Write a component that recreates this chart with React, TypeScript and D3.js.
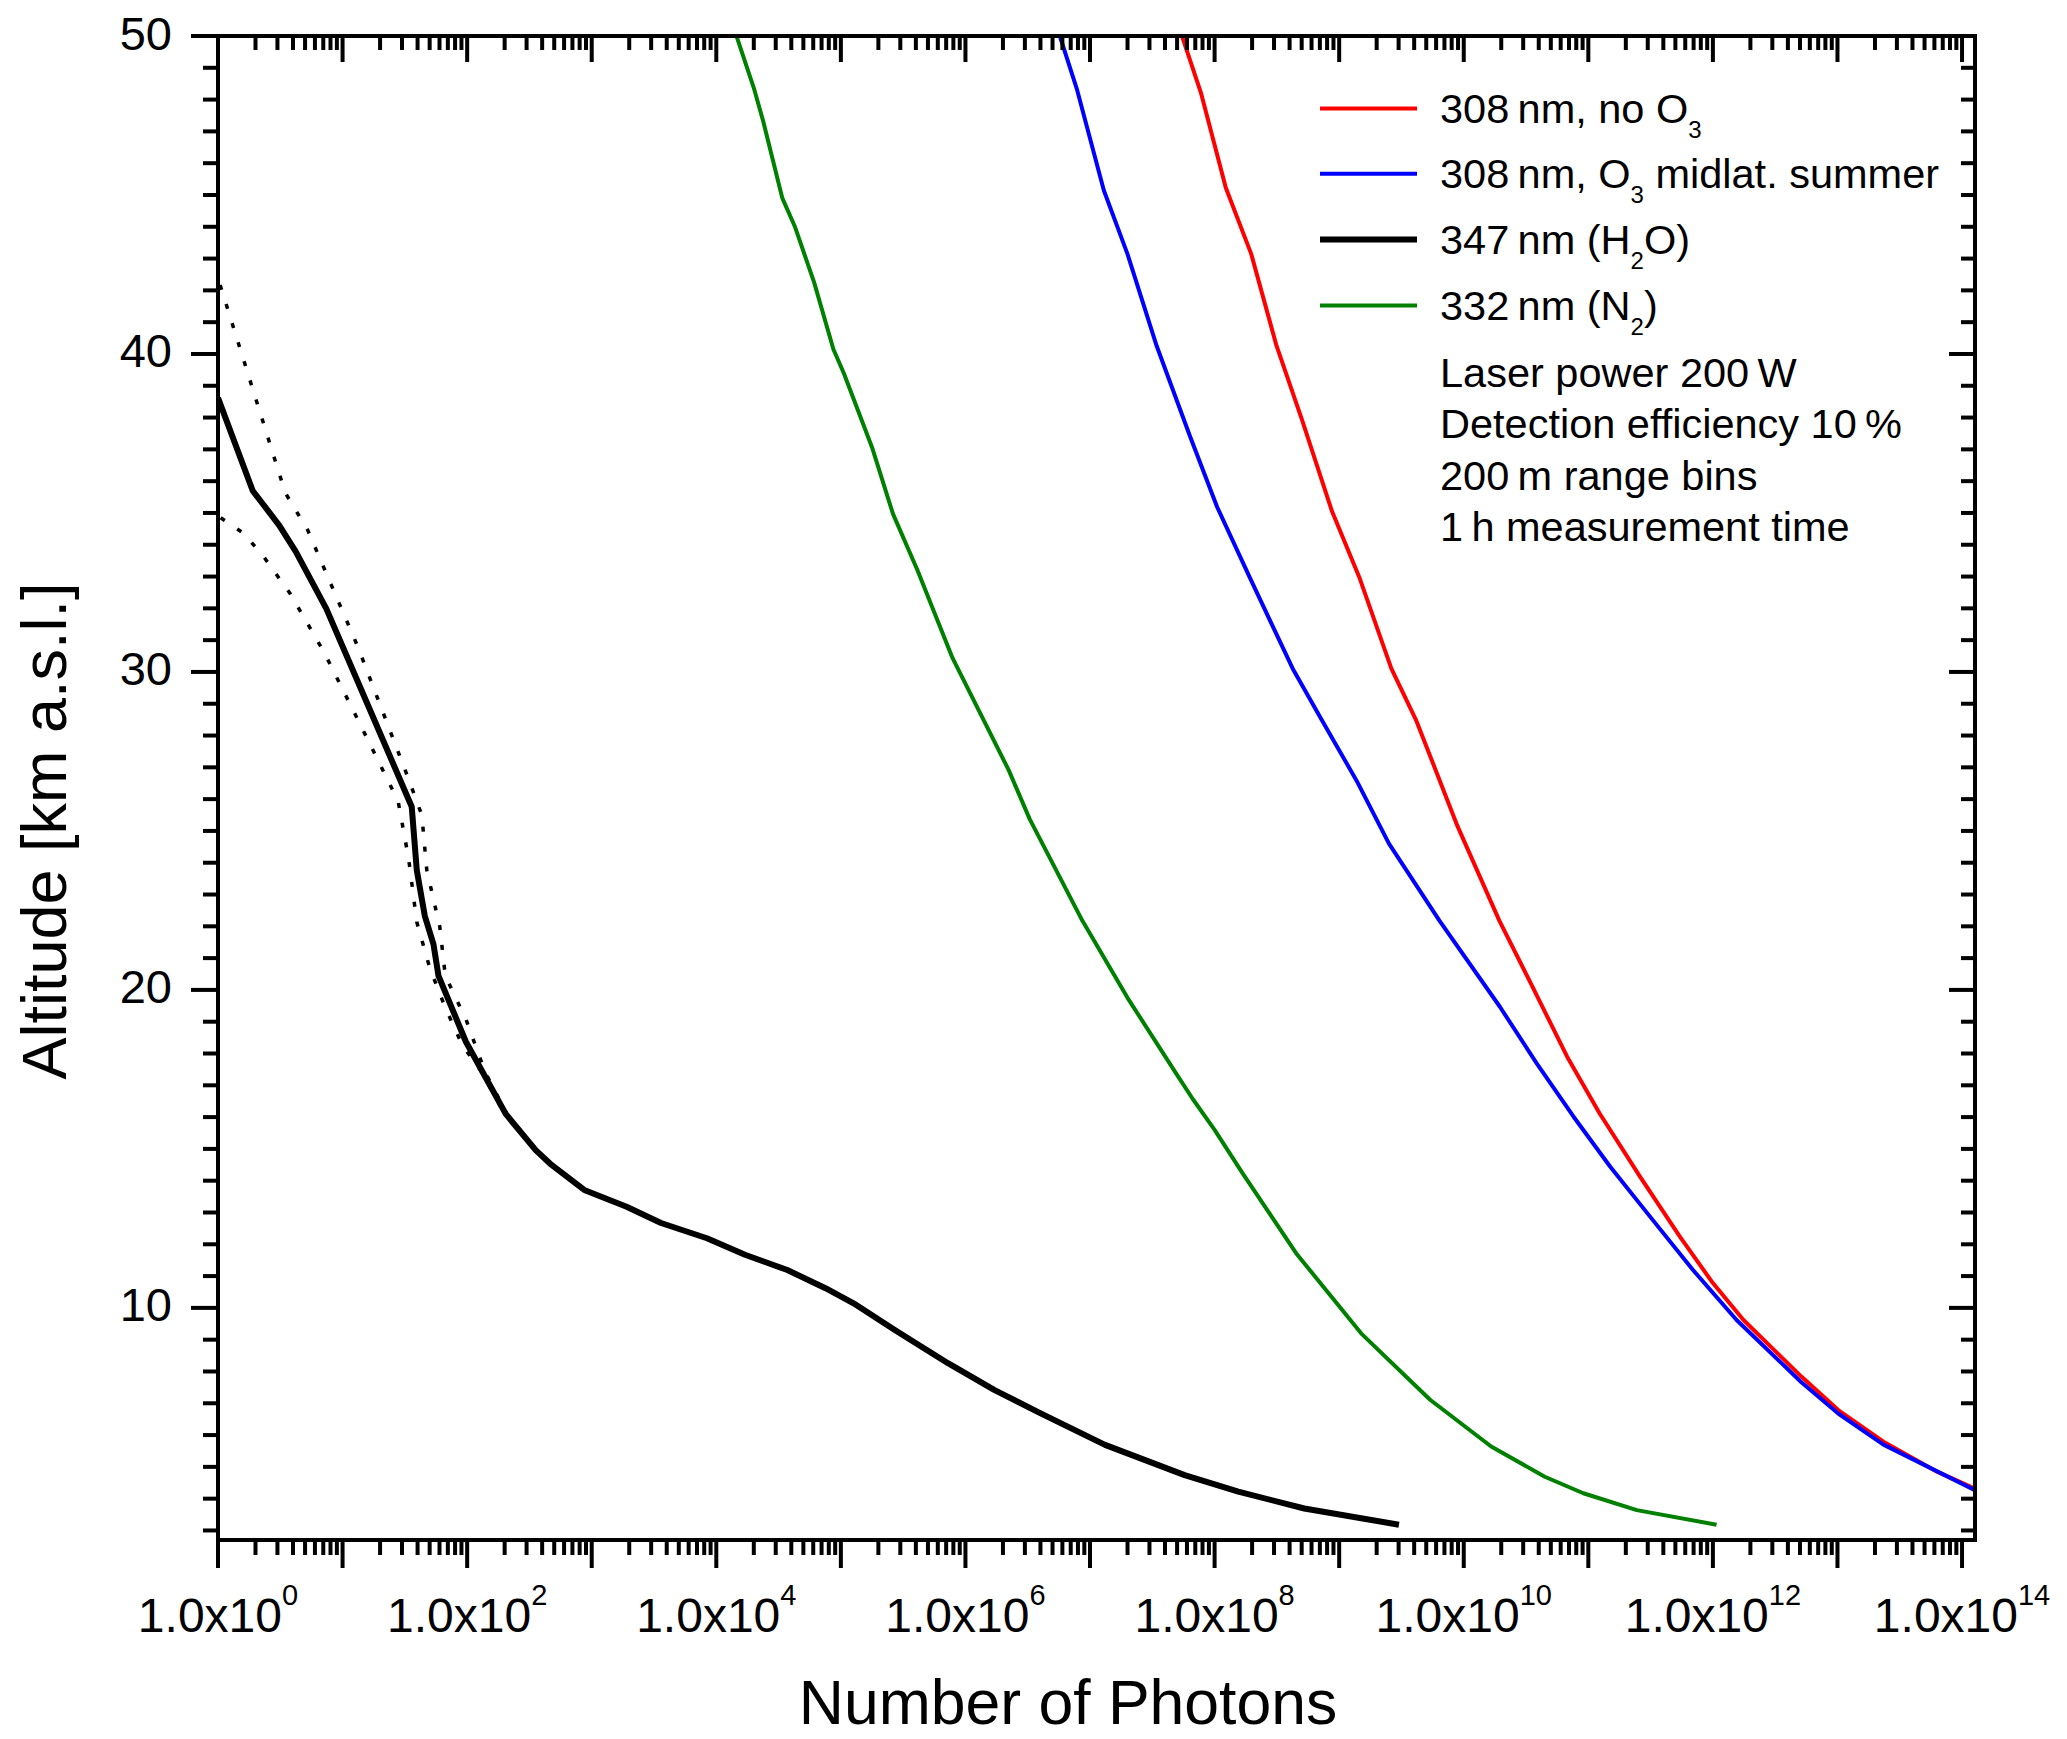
import { useEffect, useRef } from 'react'
import * as d3 from 'd3'

const WIDTH = 2067
const HEIGHT = 1739
const PLOT = { left: 218, right: 1975, top: 36, bottom: 1540 }
const FONT = '"Liberation Sans", Arial, Helvetica, sans-serif'

const X_MIN = 1
const X_MAX = 10 ** 14.104
const Y_MIN = 2.7
const Y_MAX = 50

// 308 nm, no O3
const RED_ALT = [49.97, 48.22, 45.23, 43.14, 40.26, 37.95, 35.08, 32.98, 30.11, 28.46, 25.15, 22.18, 20.19, 17.9, 16.12, 14.13, 12.24, 10.78, 9.62, 7.84, 6.78, 5.79, 4.85, 4.29]
const RED_N = [5.5e7, 7.76e7, 1.23e8, 1.97e8, 3.14e8, 5.01e8, 8.71e8, 1.45e9, 2.62e9, 4.17e9, 8.91e9, 1.93e10, 3.47e10, 6.76e10, 1.23e11, 2.6e11, 5.43e11, 1.0e12, 1.76e12, 5.13e12, 1.02e13, 2.34e13, 6.31e13, 1.31e14]

// 308 nm, O3 midlat. summer
const BLUE_ALT = [49.97, 48.31, 45.15, 43.14, 40.25, 37.39, 35.18, 32.98, 30.11, 28.56, 26.58, 24.6, 22.18, 19.47, 17.69, 16.02, 14.44, 12.87, 11.19, 9.62, 7.66, 6.67, 5.7, 4.24]
const BLUE_N = [5.75e6, 7.87e6, 1.29e7, 2.0e7, 3.43e7, 6.38e7, 1.05e8, 1.91e8, 4.23e8, 7.08e8, 1.38e9, 2.51e9, 6.38e9, 1.95e10, 3.85e10, 7.59e10, 1.5e11, 3.13e11, 6.92e11, 1.55e12, 5.13e12, 1.02e13, 2.34e13, 1.31e14]

// 347 nm (H2O)
const H2O_ALT = [38.62, 35.7, 34.61, 33.79, 31.99, 29.0, 25.76, 23.77, 22.33, 21.43, 20.44, 18.37, 16.1, 14.96, 14.54, 13.71, 13.18, 12.67, 12.19, 11.67, 11.19, 10.62, 10.1, 9.31, 8.26, 7.42, 6.69, 5.69, 4.74, 4.22, 3.69, 3.18]
const H2O_N = [1.0, 1.9, 3.1, 4.2, 7.4, 15.8, 35.9, 39.4, 45.7, 53.7, 58.9, 97.7, 204, 355, 462, 871, 1905, 3600, 8410, 1.7e4, 3.72e4, 7.53e4, 1.32e5, 2.69e5, 7.24e5, 1.7e6, 3.98e6, 1.32e7, 5.75e7, 1.55e8, 5.25e8, 3.02e9]

// 347 nm uncertainty bounds (dotted)
const H2O_UP_ALT = [42.17, 38.62, 35.63, 34.46, 30.81, 26.68, 25.49, 23.77, 21.99, 20.44, 19.08, 17.4, 16.1, 14.96]
const H2O_UP_N = [1.04, 2.0, 3.47, 5.25, 13.2, 33.5, 43.3, 47.4, 60.3, 66.8, 97.7, 140, 208, 360]
const H2O_LO_ALT = [34.85, 34.35, 33.61, 32.46, 30.63, 28.29, 25.94, 24.13, 22.14, 20.69, 19.44, 18.27, 17.4, 16.1, 14.96]
const H2O_LO_N = [1.05, 1.62, 2.34, 3.8, 7.08, 14.1, 27.9, 33.9, 39.4, 50.1, 66.8, 91.2, 132, 200, 350]

// 332 nm (N2)
const N2_ALT = [49.97, 48.31, 47.32, 44.9, 44.01, 42.25, 40.15, 39.38, 37.06, 34.97, 33.2, 30.44, 29.56, 26.92, 25.37, 22.18, 19.75, 17.32, 16.57, 15.6, 14.23, 11.72, 9.2, 7.11, 5.64, 4.69, 4.17, 3.64, 3.18]
const N2_N = [1.46e4, 2.02e4, 2.38e4, 3.39e4, 4.27e4, 6.1e4, 8.71e4, 1.06e5, 1.78e5, 2.62e5, 4.12e5, 7.87e5, 1.02e6, 2.22e6, 3.28e6, 8.67e6, 2.0e7, 5.01e7, 6.68e7, 1.0e8, 1.68e8, 4.51e8, 1.5e9, 5.37e9, 1.66e10, 4.47e10, 9.12e10, 2.45e11, 1.07e12]

const Y_MAJOR = [10, 20, 30, 40, 50]
const X_LABEL_EXP = [0, 2, 4, 6, 8, 10, 12, 14]

const SERIES = [
  { alt: RED_ALT, n: RED_N, color: '#ff0000', width: 4, sub: ['308\u2009nm, no O', '3', ''] },
  { alt: BLUE_ALT, n: BLUE_N, color: '#0000ff', width: 4, sub: ['308\u2009nm, O', '3', ' midlat. summer'] },
  { alt: H2O_ALT, n: H2O_N, color: '#000000', width: 6, sub: ['347\u2009nm (H', '2', 'O)'] },
  { alt: N2_ALT, n: N2_N, color: '#008000', width: 4, sub: ['332\u2009nm (N', '2', ')'] },
]

const INFO = [
  'Laser power 200\u2009W',
  'Detection efficiency 10\u2009%',
  '200\u2009m range bins',
  '1\u2009h measurement time',
]

export default function App() {
  const svgRef = useRef<SVGSVGElement>(null)

  useEffect(() => {
    if (!svgRef.current) return
    const svg = d3.select(svgRef.current)
    svg.selectAll('*').remove()
    svg.attr('font-family', FONT)

    const x = d3.scaleLog().domain([X_MIN, X_MAX]).range([PLOT.left, PLOT.right])
    const y = d3.scaleLinear().domain([Y_MIN, Y_MAX]).range([PLOT.bottom, PLOT.top])

    svg.append('rect').attr('width', WIDTH).attr('height', HEIGHT).attr('fill', '#fff')

    svg.append('clipPath').attr('id', 'plot-clip')
      .append('rect')
      .attr('x', PLOT.left).attr('y', PLOT.top)
      .attr('width', PLOT.right - PLOT.left).attr('height', PLOT.bottom - PLOT.top)

    const line = d3.line<[number, number]>()
      .x(d => x(d[1]))
      .y(d => y(d[0]))

    const curves = svg.append('g').attr('clip-path', 'url(#plot-clip)')
    SERIES.forEach(s => {
      curves.append('path')
        .attr('d', line(d3.zip(s.alt, s.n) as [number, number][]))
        .attr('fill', 'none')
        .attr('stroke', s.color)
        .attr('stroke-width', s.width)
        .attr('stroke-linejoin', 'round')
    })
    ;[[H2O_UP_ALT, H2O_UP_N], [H2O_LO_ALT, H2O_LO_N]].forEach(([a, n]) => {
      curves.append('path')
        .attr('d', line(d3.zip(a, n) as [number, number][]))
        .attr('fill', 'none')
        .attr('stroke', '#000')
        .attr('stroke-width', 3.5)
        .attr('stroke-dasharray', '5 15')
    })

    // ticks: bottom/left point out, top/right point in
    const ticks = svg.append('g').attr('stroke', '#000').attr('stroke-width', 4)
    const xMajor = d3.range(0, 15).map(k => 10 ** k)
    const xMinor: number[] = []
    d3.range(0, 15).forEach(k => d3.range(2, 10).forEach(m => {
      const v = m * 10 ** k
      if (v <= X_MAX) xMinor.push(v)
    }))
    xMajor.forEach(v => {
      ticks.append('line').attr('x1', x(v)).attr('x2', x(v)).attr('y1', PLOT.bottom).attr('y2', PLOT.bottom + 28)
      ticks.append('line').attr('x1', x(v)).attr('x2', x(v)).attr('y1', PLOT.top).attr('y2', PLOT.top + 26)
    })
    xMinor.forEach(v => {
      ticks.append('line').attr('x1', x(v)).attr('x2', x(v)).attr('y1', PLOT.bottom).attr('y2', PLOT.bottom + 15)
      ticks.append('line').attr('x1', x(v)).attr('x2', x(v)).attr('y1', PLOT.top).attr('y2', PLOT.top + 14)
    })
    const yMinor = d3.range(3, 50).filter(v => v % 10 !== 0)
    Y_MAJOR.forEach(v => {
      ticks.append('line').attr('x1', PLOT.left - 27).attr('x2', PLOT.left).attr('y1', y(v)).attr('y2', y(v))
      ticks.append('line').attr('x1', PLOT.right - 26).attr('x2', PLOT.right).attr('y1', y(v)).attr('y2', y(v))
    })
    yMinor.forEach(v => {
      ticks.append('line').attr('x1', PLOT.left - 15).attr('x2', PLOT.left).attr('y1', y(v)).attr('y2', y(v))
      ticks.append('line').attr('x1', PLOT.right - 14).attr('x2', PLOT.right).attr('y1', y(v)).attr('y2', y(v))
    })

    // frame
    svg.append('rect')
      .attr('x', PLOT.left).attr('y', PLOT.top)
      .attr('width', PLOT.right - PLOT.left).attr('height', PLOT.bottom - PLOT.top)
      .attr('fill', 'none').attr('stroke', '#000').attr('stroke-width', 4)

    // tick labels
    Y_MAJOR.forEach(v => {
      svg.append('text')
        .attr('x', 172).attr('y', y(v) + 13.5)
        .attr('text-anchor', 'end').attr('font-size', 47)
        .text(String(v))
    })
    X_LABEL_EXP.forEach(k => {
      const t = svg.append('text')
        .attr('x', x(10 ** k)).attr('y', 1632)
        .attr('text-anchor', 'middle').attr('font-size', 48)
      t.append('tspan').text('1.0x10')
      t.append('tspan').attr('dy', -27).attr('font-size', 29).text(String(k))
    })

    // axis titles
    svg.append('text')
      .attr('x', 1068).attr('y', 1724)
      .attr('text-anchor', 'middle').attr('font-size', 62.5)
      .text('Number of Photons')
    svg.append('text')
      .attr('transform', 'translate(66,831) rotate(-90)')
      .attr('text-anchor', 'middle').attr('font-size', 63)
      .text('Altitude [km a.s.l.]')

    // legend
    const lineY = [108.6, 173.8, 239.5, 305.5]
    SERIES.forEach((s, i) => {
      svg.append('line')
        .attr('x1', 1320).attr('x2', 1417)
        .attr('y1', lineY[i]).attr('y2', lineY[i])
        .attr('stroke', s.color).attr('stroke-width', s.width)
      const t = svg.append('text')
        .attr('x', 1440).attr('y', lineY[i] + 14)
        .attr('font-size', 41.5)
      t.append('tspan').text(s.sub[0])
      t.append('tspan').attr('dy', 15.6).attr('font-size', 24).text(s.sub[1])
      if (s.sub[2]) t.append('tspan').attr('dy', -15.6).text(s.sub[2])
    })
    INFO.forEach((txt, i) => {
      svg.append('text')
        .attr('x', 1440).attr('y', 386.5 + i * 51.6)
        .attr('font-size', 41.5)
        .text(txt)
    })
  }, [])

  return (
    <div style={{ position: 'absolute', left: 0, top: 0 }}>
      <svg ref={svgRef} width={WIDTH} height={HEIGHT} style={{ display: 'block' }} />
    </div>
  )
}
